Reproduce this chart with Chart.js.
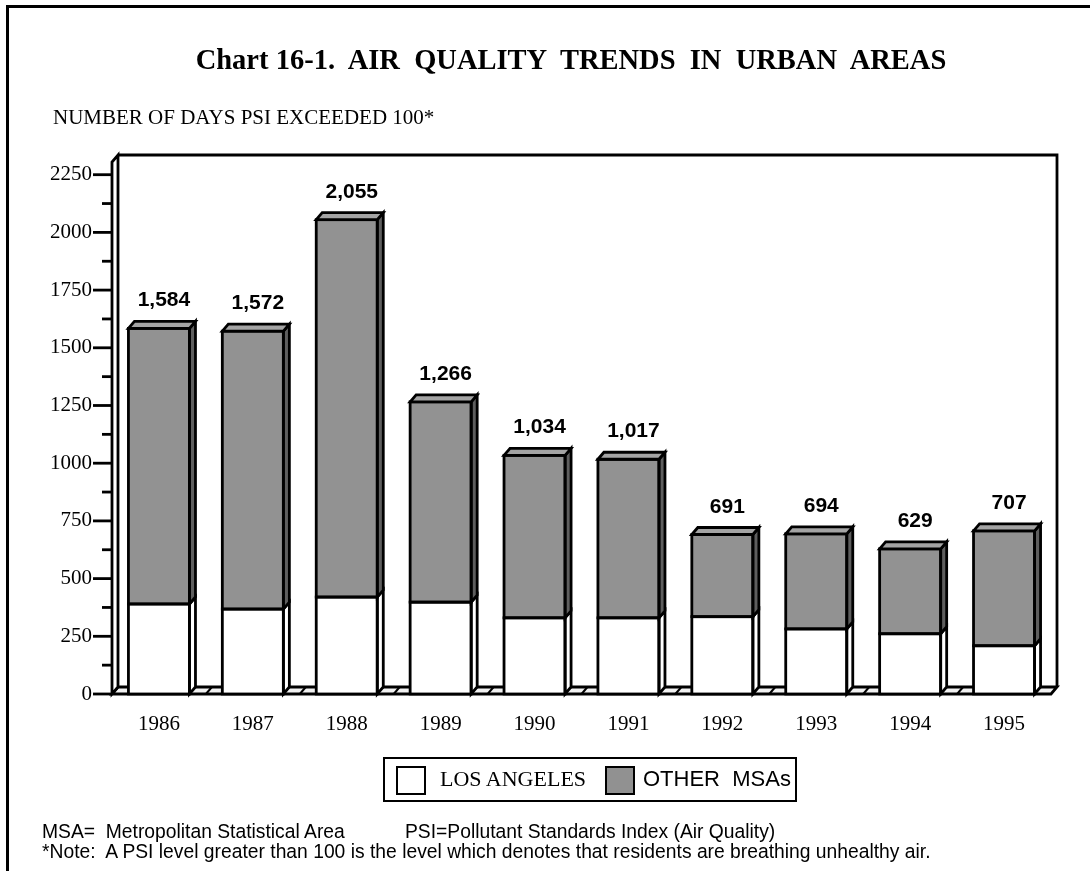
<!DOCTYPE html>
<html>
<head>
<meta charset="utf-8">
<script src="https://cdn.jsdelivr.net/npm/chart.js@4.4.1/dist/chart.umd.min.js"></script>
<style>
html,body{margin:0;padding:0;background:#fff;}
#wrap{position:relative;width:1090px;height:871px;overflow:hidden;background:#fff;}
#c{position:absolute;left:0;top:0;}
.frame{position:absolute;left:6px;top:5px;width:1200px;height:1000px;border-left:3px solid #000;border-top:3px solid #000;}
.t{position:absolute;white-space:pre;color:#000;line-height:1;}
.title{left:0;width:1142px;text-align:center;top:44px;font:bold 28.5px "Liberation Serif","Times New Roman",serif;}
.sub{left:53px;top:105px;font:21px "Liberation Serif","Times New Roman",serif;}
.note{font:19.3px "Liberation Sans",Arial,sans-serif;}
.legend{position:absolute;left:383px;top:757px;width:410px;height:41px;border:2.5px solid #000;background:#fff;}
.sw{position:absolute;top:7px;width:26px;height:25px;border:2px solid #000;}
.lt{position:absolute;top:9px;white-space:pre;line-height:1;font-size:22px;color:#000;}
</style>
</head>
<body>
<div id="wrap">
  <canvas id="c" width="1090" height="871" style="width:1090px;height:871px"></canvas>
  <div class="frame"></div>
  <div class="t title">Chart 16-1.  AIR  QUALITY  TRENDS  IN  URBAN  AREAS</div>
  <div class="t sub">NUMBER OF DAYS PSI EXCEEDED 100*</div>
  <div class="legend">
    <div class="sw" style="left:11px;background:#fff;"></div>
    <div class="lt" style="left:55px;font-family:'Liberation Serif','Times New Roman',serif;">LOS ANGELES</div>
    <div class="sw" style="left:220px;background:#919191;"></div>
    <div class="lt" style="left:258px;font-family:'Liberation Sans',Arial,sans-serif;">OTHER  MSAs</div>
  </div>
  <div class="t note" style="left:42px;top:821px;">MSA=  Metropolitan Statistical Area</div>
  <div class="t note" style="left:405px;top:821px;">PSI=Pollutant Standards Index (Air Quality)</div>
  <div class="t note" style="left:42px;top:841px;">*Note:  A PSI level greater than 100 is the level which denotes that residents are breathing unhealthy air.</div>
</div>
<script>
// ---- data ----
const years = ['1986','1987','1988','1989','1990','1991','1992','1993','1994','1995'];
const losAngeles = [390, 368, 420, 398, 330, 330, 335, 282, 261, 209];
const otherMSAs  = [1194, 1204, 1635, 868, 704, 687, 356, 412, 368, 498];
const yMajorTicks = [0, 250, 500, 750, 1000, 1250, 1500, 1750, 2000, 2250];
const yMinorTicks = [125, 375, 625, 875, 1125, 1375, 1625, 1875, 2125];

const DX = 6, DY = -7, LW = 2.8;
const GRAY = '#929292', SIDE_GRAY = '#5e5e5e', TOP_GRAY = '#a4a4a4', FLOOR = '#f1f1f1';

function poly(ctx, pts, fill){
  ctx.beginPath();
  ctx.moveTo(pts[0][0], pts[0][1]);
  for(let i=1;i<pts.length;i++) ctx.lineTo(pts[i][0], pts[i][1]);
  ctx.closePath();
  if(fill){ ctx.fillStyle = fill; ctx.fill(); }
  ctx.stroke();
}
function line(ctx, x1, y1, x2, y2){
  ctx.beginPath(); ctx.moveTo(x1,y1); ctx.lineTo(x2,y2); ctx.stroke();
}

const box3d = {
  id: 'box3d',
  beforeDatasetsDraw(chart){
    const {ctx, chartArea:a} = chart;
    const xs = chart.scales.x, ys = chart.scales.y;
    ctx.save();
    ctx.lineWidth = LW; ctx.strokeStyle = '#000'; ctx.lineJoin = 'miter';
    // floor
    poly(ctx, [[a.left,a.bottom],[a.right,a.bottom],[a.right+DX,a.bottom+DY],[a.left+DX,a.bottom+DY]], FLOOR);
    const n = xs.ticks.length, w = (a.right - a.left) / n;
    ctx.lineWidth = 2;
    for(let i=1;i<n;i++){ const bx = a.left + i*w; line(ctx, bx, a.bottom, bx+DX, a.bottom+DY); }
    ctx.lineWidth = LW;
    // left wall
    poly(ctx, [[a.left,a.bottom],[a.left,a.top],[a.left+DX,a.top+DY],[a.left+DX,a.bottom+DY]], '#fff');
    // back wall top and right edge
    ctx.beginPath();
    ctx.moveTo(a.left+DX, a.top+DY); ctx.lineTo(a.right+DX, a.top+DY); ctx.lineTo(a.right+DX, a.bottom+DY);
    ctx.stroke();
    // y tick marks
    ys.ticks.forEach(t => {
      const py = ys.getPixelForValue(t.value);
      const len = yMajorTicks.includes(t.value) ? 19 : 10;
      line(ctx, a.left - len, py, a.left, py);
    });
    ctx.restore();
  },
  afterDatasetsDraw(chart){
    const ctx = chart.ctx;
    ctx.save();
    ctx.lineWidth = LW; ctx.strokeStyle = '#000'; ctx.lineJoin = 'miter';
    const sideCols = ['#ffffff', SIDE_GRAY];
    const metas = [chart.getDatasetMeta(0), chart.getDatasetMeta(1)];
    metas.forEach((meta, di) => {
      meta.data.forEach(el => {
        const p = el.getProps(['x','y','base','width'], true);
        const l = p.x - p.width/2, r = p.x + p.width/2;
        poly(ctx, [[r,p.y],[r+DX,p.y+DY],[r+DX,p.base+DY],[r,p.base]], sideCols[di]);
        ctx.strokeRect(l, p.y, p.width, p.base - p.y);
        if(di === 1){
          poly(ctx, [[l,p.y],[l+DX,p.y+DY],[r+DX,p.y+DY],[r,p.y]], TOP_GRAY);
        }
      });
    });
    // totals
    ctx.fillStyle = '#000';
    ctx.font = 'bold 21px "Liberation Sans", Arial, sans-serif';
    ctx.textAlign = 'center'; ctx.textBaseline = 'alphabetic';
    metas[1].data.forEach((el, i) => {
      const p = el.getProps(['x','y'], true);
      const total = losAngeles[i] + otherMSAs[i];
      ctx.fillText(total.toLocaleString('en-US'), p.x + 5, p.y - 22);
    });
    ctx.restore();
  }
};

new Chart(document.getElementById('c'), {
  type: 'bar',
  data: {
    labels: years,
    datasets: [
      { label: 'LOS ANGELES', data: losAngeles, backgroundColor: '#ffffff', borderWidth: 0 },
      { label: 'OTHER MSAs', data: otherMSAs, backgroundColor: GRAY, borderWidth: 0 }
    ]
  },
  options: {
    responsive: false,
    devicePixelRatio: 1,
    animation: false,
    layout: { padding: { left: 0, top: 162, right: 39, bottom: 137 } },
    plugins: { legend: { display: false }, tooltip: { enabled: false }, title: { display: false } },
    datasets: { bar: { categoryPercentage: 1, barPercentage: 0.65 } },
    scales: {
      x: {
        stacked: true,
        grid: { display: false, drawTicks: false },
        border: { display: false },
        ticks: { color: '#000', padding: 18, font: { family: '"Liberation Serif","Times New Roman",serif', size: 21 } },
        afterFit(s){ s.height = 40; }
      },
      y: {
        stacked: true,
        min: 0, max: 2305,
        grid: { display: false, drawTicks: false },
        border: { display: false },
        afterBuildTicks(s){
          s.ticks = yMajorTicks.concat(yMinorTicks).sort((a,b)=>a-b).map(v => ({ value: v }));
        },
        ticks: {
          color: '#000', padding: 20,
          font: { family: '"Liberation Serif","Times New Roman",serif', size: 21 },
          callback(v){ return yMajorTicks.includes(v) ? String(v) : ''; }
        },
        afterFit(s){ s.width = 112; }
      }
    }
  },
  plugins: [box3d]
});
</script>
</body>
</html>
